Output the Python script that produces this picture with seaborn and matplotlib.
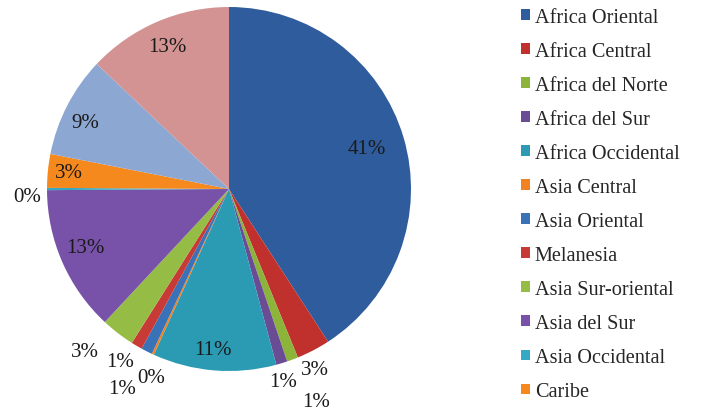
import matplotlib
matplotlib.use("Agg")
import matplotlib.pyplot as plt
import seaborn as sns
import numpy as np

# ---- data ----
regions = ["Africa Oriental", "Africa Central", "Africa del Norte", "Africa del Sur",
           "Africa Occidental", "Asia Central", "Asia Oriental", "Melanesia",
           "Asia Sur-oriental", "Asia del Sur", "Asia Occidental", "Caribe",
           "Otra región 1", "Otra región 2"]
shares = [41, 3, 1, 1, 11, 0.2, 1, 1, 3, 13, 0.2, 3, 9, 13]
legend_count = 12  # only the first 12 entries are visible in the legend

# ---- styling ----
colors = ["#2F5C9C", "#C0312D", "#8DB43A", "#6A4C94", "#2A9BB3", "#F08222",
          "#3A72B8", "#C83A35", "#95BD45", "#7752A8", "#35A8C4", "#F5891E",
          "#8DA7D3", "#D49393"]
# radial distance of each percent label and a small angular nudge (degrees)
label_dist = [0.79, 1.10, 1.26, 1.10, 0.885, 1.12, 1.245, 1.12, 1.195, 0.85, 1.11, 0.885, 0.87, 0.85]
label_nudge = [0, -2.3, 1.9, -1.3, -1.0, 2.4, -1.2, -1.9, -3.9, -1.6, 2.0, 0, 2.3, 0]

sns.set_theme(style="white")
plt.rcParams["font.family"] = ["Liberation Serif", "DejaVu Serif"]
pal = sns.color_palette(colors)

W, H = 702, 414
fig = plt.figure(figsize=(W / 100, H / 100), dpi=100)
cx, cy, r = 229, 190, 182
ax = fig.add_axes([(cx - r) / W, (H - cy - r) / H, 2 * r / W, 2 * r / H])

wedges, _ = ax.pie(shares, colors=pal, startangle=90, counterclock=False,
                   radius=1.0, wedgeprops=dict(linewidth=0))
ax.set_xlim(-1, 1)
ax.set_ylim(-1, 1)
ax.set_aspect("equal")
ax.axis("off")

total = sum(shares)
for w, v, d, nd in zip(wedges, shares, label_dist, label_nudge):
    ang = np.deg2rad((w.theta1 + w.theta2) / 2 + nd)
    x, y = d * np.cos(ang), d * np.sin(ang)
    ax.text(x, y, f"{round(v / total * 100)}%", ha="center", va="center",
            fontsize=15, color="#1a1a1a", clip_on=False)

leg = fig.legend(wedges[:legend_count], regions[:legend_count],
                 loc="upper left", bbox_to_anchor=(521 / W, 1 - 9 / H),
                 frameon=False, fontsize=14.6, handlelength=0.43, handleheight=0.43,
                 handletextpad=0.25, labelspacing=0.74, borderaxespad=0,
                 borderpad=0)

fig.savefig("out.png", dpi=100, facecolor="white")
